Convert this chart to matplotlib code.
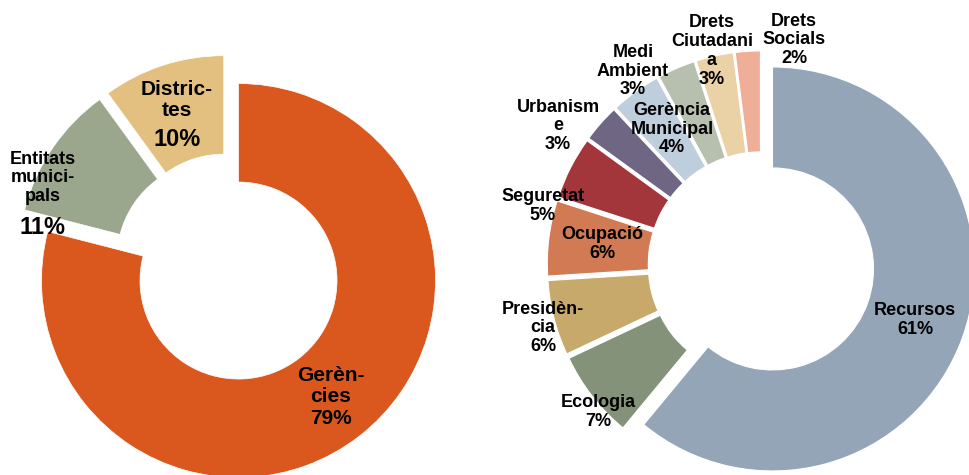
import matplotlib
matplotlib.use('Agg')
import matplotlib.pyplot as plt

# left donut
left_names = ['Gerències', 'Entitats municipals', 'Districtes']
left_vals = [79, 11, 10]
left_colors = ['#DA581E', '#9BA78C', '#E3C07F']

# right donut
right_names = ['Recursos', 'Ecologia', 'Presidència', 'Ocupació', 'Seguretat',
               'Urbanisme', 'Gerència Municipal', 'Medi Ambient',
               'Drets Ciutadania', 'Drets Socials']
right_vals = [61, 7, 6, 6, 5, 3, 4, 3, 3, 2]
right_colors = ['#94A5B8', '#85927A', '#C8A96C', '#D17A53', '#A3363A',
                '#6E6683', '#BFCEDD', '#B7BFAE', '#EAD1A6', '#EFAE98']

W, H = 969, 475
plt.rcParams['font.family'] = ['Liberation Sans', 'DejaVu Sans']

fig = plt.figure(figsize=(W/100, H/100), dpi=100)
ax = fig.add_axes([0, 0, 1, 1])

#=========================
R1 = 197
ax.pie(left_vals, colors=left_colors, startangle=90, counterclock=False,
       radius=R1, center=(228.7, H-267.9), explode=[16]*len(left_vals),
       wedgeprops=dict(width=R1*0.5, edgecolor='white', linewidth=0.5))

R2 = 202
ax.pie(right_vals, colors=right_colors, startangle=90, counterclock=False,
       radius=R2, center=(761.2, H-264.9), explode=[12]*len(right_vals),
       wedgeprops=dict(width=R2*0.5, edgecolor='white', linewidth=0.8))
#=========================

def lab(x, y, s, size=13):
   ax.text(x, H-y, s, ha='center', va='center', fontsize=size,
           fontweight='bold', multialignment='center', linespacing=1.15)

# left labels
lab(177, 100, 'Distric-\ntes', 15)
lab(177, 140, '10%', 17)
lab(43, 178, 'Entitats\nmunici-\npals', 13)
lab(43, 228, '11%', 17)
lab(331, 397, 'Gerèn-\ncies\n79%', 15)

# right labels
lab(712, 51, 'Drets\nCiutadani\na\n3%')
lab(794, 40, 'Drets\nSocials\n2%')
lab(633, 71, 'Medi\nAmbient\n3%')
lab(672, 129, 'Gerència\nMunicipal\n4%')
lab(558, 126, 'Urbanism\ne\n3%')
lab(543, 206, 'Seguretat\n5%')
lab(602, 244, 'Ocupació\n6%')
lab(543, 328, 'Presidèn-\ncia\n6%')
lab(598, 412, 'Ecologia\n7%')
lab(915, 320, 'Recursos\n61%')

ax.set_xlim(0, W)
ax.set_ylim(0, H)
ax.set_aspect('equal')
ax.axis('off')

plt.savefig('out.png', dpi=100)
